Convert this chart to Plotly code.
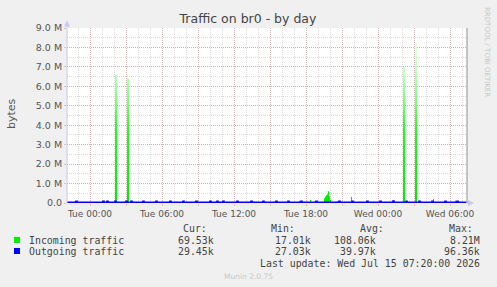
import plotly.graph_objects as go

# ---------------- data ----------------
in_times = ["2026-07-13 22:05", "2026-07-14 02:05", "2026-07-14 02:15", "2026-07-14 03:05",
            "2026-07-14 03:15", "2026-07-14 17:25", "2026-07-14 17:30", "2026-07-14 18:20",
            "2026-07-14 18:25", "2026-07-14 19:30", "2026-07-14 19:35", "2026-07-14 19:40",
            "2026-07-14 19:45", "2026-07-14 19:50", "2026-07-14 19:55", "2026-07-14 20:00",
            "2026-07-14 20:05", "2026-07-14 20:35", "2026-07-14 20:40", "2026-07-14 21:45",
            "2026-07-14 21:50", "2026-07-15 02:05", "2026-07-15 02:15", "2026-07-15 03:05",
            "2026-07-15 03:15", "2026-07-15 04:35", "2026-07-15 04:40", "2026-07-15 06:25",
            "2026-07-15 06:30", "2026-07-15 07:20"]
in_values = [50e3, 6.6e6, 50e3, 6.4e6,
             50e3, 110e3, 50e3, 150e3,
             50e3, 250e3, 330e3, 400e3,
             450e3, 600e3, 350e3, 150e3,
             50e3, 100e3, 50e3, 320e3,
             50e3, 7.0e6, 50e3, 8.21e6,
             50e3, 220e3, 50e3, 130e3,
             50e3, 69.53e3]

out_times = ["2026-07-13 22:05", "2026-07-13 22:50", "2026-07-13 22:55", "2026-07-14 01:05",
             "2026-07-14 01:10", "2026-07-14 01:25", "2026-07-14 01:30", "2026-07-14 02:05",
             "2026-07-14 02:10", "2026-07-14 03:00", "2026-07-14 03:05", "2026-07-14 03:25",
             "2026-07-14 03:30", "2026-07-14 04:25", "2026-07-14 04:30", "2026-07-14 05:30",
             "2026-07-14 05:35", "2026-07-14 06:40", "2026-07-14 06:45", "2026-07-14 07:45",
             "2026-07-14 07:50", "2026-07-14 08:50", "2026-07-14 08:55", "2026-07-14 10:00",
             "2026-07-14 10:05", "2026-07-14 10:35", "2026-07-14 10:40", "2026-07-14 11:05",
             "2026-07-14 11:10", "2026-07-14 12:15", "2026-07-14 12:20", "2026-07-14 13:25",
             "2026-07-14 13:30", "2026-07-14 14:25", "2026-07-14 14:30", "2026-07-14 15:30",
             "2026-07-14 15:35", "2026-07-14 16:30", "2026-07-14 16:35", "2026-07-14 17:35",
             "2026-07-14 17:40", "2026-07-14 18:50", "2026-07-14 18:55", "2026-07-14 20:45",
             "2026-07-14 20:50", "2026-07-14 21:50", "2026-07-14 21:55", "2026-07-14 23:05",
             "2026-07-14 23:10", "2026-07-15 00:10", "2026-07-15 00:15", "2026-07-15 01:15",
             "2026-07-15 01:20", "2026-07-15 02:20", "2026-07-15 02:25", "2026-07-15 03:25",
             "2026-07-15 03:30", "2026-07-15 04:30", "2026-07-15 04:35", "2026-07-15 05:35",
             "2026-07-15 05:40", "2026-07-15 06:35", "2026-07-15 06:40", "2026-07-15 07:20"]
out_values = [30e3, 90e3, 30e3, 90e3,
              30e3, 85e3, 30e3, 90e3,
              30e3, 90e3, 30e3, 85e3,
              30e3, 90e3, 30e3, 90e3,
              30e3, 90e3, 30e3, 90e3,
              30e3, 90e3, 30e3, 90e3,
              30e3, 85e3, 30e3, 90e3,
              30e3, 90e3, 30e3, 90e3,
              30e3, 90e3, 30e3, 90e3,
              30e3, 90e3, 30e3, 90e3,
              30e3, 90e3, 30e3, 90e3,
              30e3, 90e3, 30e3, 90e3,
              30e3, 90e3, 30e3, 96.36e3,
              30e3, 90e3, 30e3, 90e3,
              30e3, 90e3, 30e3, 90e3,
              30e3, 90e3, 30e3, 29.45e3]

x_tickvals = ["2026-07-14 00:00", "2026-07-14 03:00", "2026-07-14 06:00", "2026-07-14 09:00",
              "2026-07-14 12:00", "2026-07-14 15:00", "2026-07-14 18:00", "2026-07-14 21:00",
              "2026-07-15 00:00", "2026-07-15 03:00", "2026-07-15 06:00"]
x_ticktext = ["Tue 00:00", "", "Tue 06:00", "", "Tue 12:00", "", "Tue 18:00", "",
              "Wed 00:00", "", "Wed 06:00"]
y_tickvals = [0, 1e6, 2e6, 3e6, 4e6, 5e6, 6e6, 7e6, 8e6, 9e6]
y_ticktext = ["0.0", "1.0 M", "2.0 M", "3.0 M", "4.0 M", "5.0 M", "6.0 M", "7.0 M", "8.0 M", "9.0 M"]

series_names = ["Incoming traffic", "Outgoing traffic"]
series_colors = ["#00ee00", "#0000ff"]
stat_headers = ["Cur:", "Min:", "Avg:", "Max:"]
stat_cur = ["69.53k", "29.45k"]
stat_min = ["17.01k", "27.03k"]
stat_avg = ["108.06k", "39.97k"]
stat_max = ["8.21M", "96.36k"]

# ---------------- layout helpers (pixel -> paper) ----------------
W, H = 497, 287
L, R, T, B = 67, 30, 28, 84
PW, PH = W - L - R, H - T - B


def px(x):
    return (x - L) / PW


def py(y):
    return (H - B - y) / PH


fig = go.Figure()

fig.add_trace(go.Scatter(
    x=in_times, y=in_values, mode="lines", line=dict(shape="hv", width=0, color="#00ee00"),
    fill="tozeroy",
    fillgradient=dict(type="vertical",
                      colorscale=[[0, "#00ee00"], [0.45, "#18ff18"], [0.62, "#70ff70"],
                                  [0.8, "#b8ffb8"], [1, "#e4ffe4"]],
                      start=0, stop=8.21e6),
    hoverinfo="skip", showlegend=False))
fig.add_trace(go.Scatter(
    x=out_times, y=out_values, mode="lines", line=dict(shape="hv", width=1.6, color="#0000ff"),
    hoverinfo="skip", showlegend=False))

MGRID = "rgba(225,120,120,0.42)"
GRID = "#dadada"

fig.update_xaxes(
    type="date", range=["2026-07-13 22:05", "2026-07-15 07:25"],
    tickmode="array", tickvals=x_tickvals, ticktext=x_ticktext,
    showgrid=True, gridcolor=MGRID, griddash="1px,1px", gridwidth=1,
    ticks="outside", ticklen=2, tickcolor=MGRID,
    tickfont=dict(family="DejaVu Sans", size=9, color="#555555"),
    minor=dict(dtick=3600000, tick0="2026-07-14 00:00", showgrid=True,
               gridcolor=GRID, griddash="1px,1px", gridwidth=1),
    zeroline=False, showline=False, fixedrange=True)
fig.update_yaxes(
    range=[0, 9e6], tickmode="array", tickvals=y_tickvals, ticktext=y_ticktext,
    showgrid=True, gridcolor=MGRID, griddash="1px,1px", gridwidth=1,
    ticks="outside", ticklen=2, tickcolor=MGRID,
    tickfont=dict(family="DejaVu Sans", size=9.5, color="#555555"),
    minor=dict(dtick=5e5, tick0=0, showgrid=True, gridcolor=GRID, griddash="1px,1px", gridwidth=1),
    zeroline=False, showline=False, fixedrange=True)

AXC = "#c8c8f0"
shapes = [
    dict(type="line", xref="paper", yref="paper", x0=0, x1=0, y0=0, y1=py(26),
         line=dict(color=AXC, width=1)),
    dict(type="path", xref="paper", yref="paper",
         path=f"M {px(64)},{py(26.5)} L {px(70)},{py(26.5)} L {px(67)},{py(20.5)} Z",
         fillcolor=AXC, line=dict(width=0)),
    dict(type="line", xref="paper", yref="paper", x0=1, x1=px(469), y0=0, y1=0,
         line=dict(color=AXC, width=1)),
    dict(type="path", xref="paper", yref="paper",
         path=f"M {px(468)},{py(200)} L {px(468)},{py(206)} L {px(474)},{py(203)} Z",
         fillcolor=AXC, line=dict(width=0)),
    dict(type="line", xref="paper", yref="paper", x0=1, x1=1, y0=0, y1=1,
         line=dict(color="#909090", width=1)),
]

annotations = [
    dict(text="bytes", x=px(11), y=py(113), xref="paper", yref="paper", textangle=-90,
         showarrow=False, font=dict(family="DejaVu Sans", size=11, color="#555555"),
         xanchor="center", yanchor="middle"),
    dict(text="RRDTOOL / TOBI OETIKER", x=px(487), y=py(52), xref="paper", yref="paper",
         textangle=90, showarrow=False, font=dict(family="DejaVu Sans", size=7, color="#c8c8c8"),
         xanchor="center", yanchor="middle"),
    dict(text="Munin 2.0.75", x=px(248), y=py(276), xref="paper", yref="paper",
         showarrow=False, font=dict(family="DejaVu Sans", size=7.5, color="#c8c8c8"),
         xanchor="center", yanchor="middle"),
]

MONO = dict(family="DejaVu Sans Mono", size=9.9, color="#444444")
header_x = [181, 269, 358, 447]
value_right = [216, 313, 378, 482]
for hx, htxt in zip(header_x, stat_headers):
    annotations.append(dict(text=htxt, x=px(hx), y=py(228), xref="paper", yref="paper",
                            showarrow=False, font=MONO, xanchor="left", yanchor="middle"))

row_y = [240, 251]
for i in range(2):
    yy = row_y[i]
    shapes.append(dict(type="rect", xref="paper", yref="paper",
                       x0=px(14), x1=px(20), y0=py(yy - 3), y1=py(yy + 3),
                       fillcolor=series_colors[i], line=dict(width=0)))
    annotations.append(dict(text=series_names[i], x=px(26.5), y=py(yy), xref="paper", yref="paper",
                            showarrow=False, font=MONO, xanchor="left", yanchor="middle"))
    for vx, col in zip(value_right, [stat_cur, stat_min, stat_avg, stat_max]):
        annotations.append(dict(text=col[i], x=px(vx), y=py(yy), xref="paper", yref="paper",
                                showarrow=False, font=MONO, xanchor="right", yanchor="middle"))

annotations.append(dict(text="Last update: Wed Jul 15 07:20:00 2026", x=px(482), y=py(263),
                        xref="paper", yref="paper", showarrow=False, font=MONO,
                        xanchor="right", yanchor="middle"))

fig.update_layout(
    width=W, height=H, margin=dict(l=L, r=R, t=T, b=B, pad=0),
    paper_bgcolor="#f0f0f0", plot_bgcolor="#ffffff",
    title=dict(text="Traffic on br0 - by day", x=248 / W, xanchor="center",
               y=1 - 18.5 / H, yanchor="middle", xref="container", yref="container",
               font=dict(family="DejaVu Sans", size=12.5, color="#444444")),
    shapes=shapes, annotations=annotations, showlegend=False,
)

fig.write_html("out.html")
